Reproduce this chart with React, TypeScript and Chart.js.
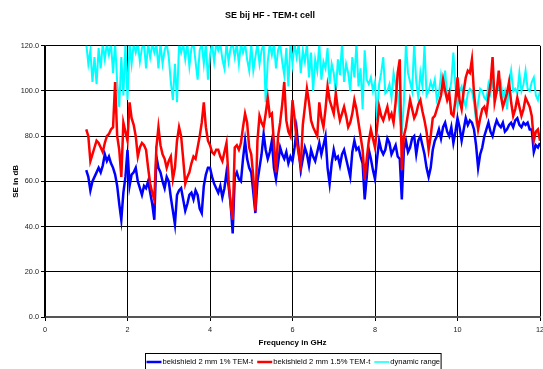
import React, { useEffect, useRef } from "react";
import { Chart, registerables } from "chart.js";

Chart.register(...registerables);

const FONT = "'Liberation Sans', Arial, sans-serif";

const chartTitle = "SE bij HF - TEM-t cell";
const xTitle = "Frequency in GHz";
const yTitle = "SE in dB";

// frequency sweep: 1.00 GHz to 12.00 GHz every 0.05 GHz
const freqStart = 1.0;
const freqStep = 0.05;

const xTicks = [0, 2, 4, 6, 8, 10, 12];
const yTicks = [0, 20, 40, 60, 80, 100, 120];

const seriesNames = ["bekishield 2 mm 1% TEM-t", "bekishield 2 mm 1.5% TEM-t", "dynamic range"];
const seriesColors = ["#0000FF", "#FF0000", "#00FFFF"];

const blueSE = [
  65, 62, 56, 60, 62, 64, 66, 64, 67, 72, 69, 71, 68, 66, 63, 58, 50, 43, 55, 62,
  74, 58, 63, 64, 66, 60, 57, 54, 58, 57, 60, 55, 50, 43, 71, 66, 64, 60, 57, 62,
  60, 53, 47, 41, 54, 56, 57, 52, 47, 50, 54, 55, 52, 56, 54, 48, 46, 58, 63, 66,
  66, 62, 59, 57, 55, 58, 53, 57, 64, 58, 50, 37, 62, 64, 61, 60, 70, 78, 70, 66,
  64, 55, 46, 60, 66, 72, 81, 74, 70, 73, 78, 66, 61, 68, 75, 72, 70, 73, 68, 71,
  69, 75, 83, 74, 65, 70, 75, 72, 67, 74, 71, 69, 73, 77, 72, 76, 80, 66, 59, 68,
  74, 70, 71, 67, 72, 74, 70, 66, 62, 73, 78, 74, 75, 71, 68, 52, 62, 74, 70, 65,
  61, 70, 78, 74, 72, 74, 79, 77, 72, 74, 76, 71, 70, 52, 74, 78, 73, 75, 79, 80,
  72, 78, 80, 76, 72, 66, 62, 66, 74, 78, 80, 83, 79, 84, 86, 82, 80, 84, 77, 82,
  88, 84, 78, 83, 88, 85, 87, 86, 83, 76, 66, 72, 75, 80, 83, 86, 82, 80, 84, 87,
  85, 84, 86, 82, 83, 85, 86, 84, 87, 88, 85, 84, 86, 85, 86, 83, 83, 73, 76, 75,
  77,
];

const redSE = [
  83, 80, 69, 72, 75, 78, 77, 75, 73, 77, 80, 81, 83, 84, 104, 80, 74, 62, 86, 82,
  78, 95, 88, 85, 80, 71, 75, 77, 76, 74, 66, 59, 55, 52, 75, 84, 76, 72, 70, 66,
  69, 71, 61, 66, 78, 84, 80, 70, 59, 62, 64, 68, 71, 70, 75, 80, 86, 95, 84, 78,
  76, 73, 72, 74, 74, 71, 69, 73, 77, 61, 50, 43, 75, 76, 74, 77, 84, 90, 86, 75,
  72, 62, 47, 78, 89, 86, 84, 90, 97, 89, 90, 77, 64, 80, 86, 94, 104, 87, 82, 80,
  96, 88, 78, 72, 67, 85, 93, 101, 95, 87, 84, 82, 80, 95, 88, 84, 92, 102, 96, 93,
  90, 99, 92, 87, 90, 93, 89, 84, 86, 90, 96, 92, 86, 80, 74, 61, 70, 78, 83, 79,
  75, 84, 93, 89, 87, 90, 93, 88, 90, 86, 95, 108, 114, 65, 80, 84, 90, 96, 92, 88,
  90, 94, 96, 91, 87, 82, 74, 80, 88, 89, 92, 95, 98, 105, 100, 96, 99, 90, 89, 96,
  106, 96, 92, 100, 106, 109, 108, 114, 99, 90, 83, 88, 92, 93, 90, 97, 103, 115, 95, 100,
  109, 98, 93, 96, 99, 104, 95, 89, 92, 97, 93, 89, 92, 97, 95, 93, 89, 78, 82, 83,
  78,
];

const dynamicRange = [
  121, 112, 118, 104, 115, 103, 119, 110, 121, 114, 121, 116, 121, 108, 121, 104, 93, 115, 98, 121,
  96, 121, 112, 121, 117, 121, 113, 119, 121, 110, 121, 115, 121, 117, 121, 110, 121, 112, 118, 121,
  115, 104, 96, 112, 95, 121, 117, 121, 114, 121, 111, 119, 121, 113, 105, 118, 121, 112, 121, 105,
  116, 121, 113, 121, 118, 121, 114, 110, 121, 113, 119, 121, 115, 121, 112, 121, 117, 121, 114, 109,
  121, 109, 115, 121, 112, 118, 121, 95, 113, 121, 116, 121, 110, 118, 121, 113, 107, 119, 102, 121,
  112, 121, 115, 121, 108, 118, 113, 121, 106, 117, 100, 114, 109, 121, 105, 113, 110, 119, 103, 112,
  108, 99, 114, 107, 121, 104, 112, 108, 100, 115, 106, 121, 102, 110, 92, 118, 105, 103, 106, 100,
  104, 87, 103, 108, 115, 99, 100, 103, 97, 108, 103, 99, 88, 81, 95, 121, 108, 104, 100, 121,
  104, 97, 108, 102, 120, 98, 100, 104, 101, 105, 96, 99, 107, 101, 109, 97, 99, 104, 117, 102,
  93, 100, 102, 96, 93, 99, 101, 100, 95, 87, 95, 101, 100, 97, 96, 103, 99, 105, 98, 99,
  102, 104, 97, 100, 92, 103, 109, 100, 101, 99, 108, 100, 103, 109, 101, 100, 104, 106, 98, 96,
  100,
];

function toPoints(vals: number[]) {
  return vals.map((v, i) => ({ x: +(freqStart + i * freqStep).toFixed(2), y: v }));
}

const legendBoxPlugin = {
  id: "legendBox",
  afterDraw(chart: any) {
    const { ctx, chartArea } = chart;
    ctx.save();
    ctx.font = `7.6px ${FONT}`;
    const sample = 15;
    const gapAfterSample = 1;
    const gapAfterText = 4;
    const pad = 1;
    const widths = seriesNames.map((n) => ctx.measureText(n).width);
    let total = pad * 2;
    widths.forEach((w, i) => {
      total += sample + gapAfterSample + w + (i < widths.length - 1 ? gapAfterText : 0);
    });
    const cx = (chartArea.left + chartArea.right) / 2;
    const left = Math.round(cx - total / 2) + 0.5;
    const top = 353.5;
    ctx.strokeStyle = "#000";
    ctx.lineWidth = 1;
    ctx.strokeRect(left, top, total, 20);
    const yMid = 362;
    let x = left + pad;
    ctx.textBaseline = "middle";
    ctx.textAlign = "left";
    seriesNames.forEach((n, i) => {
      ctx.strokeStyle = seriesColors[i];
      ctx.lineWidth = i === 2 ? 1.5 : 2.5;
      ctx.beginPath();
      ctx.moveTo(x, yMid);
      ctx.lineTo(x + sample, yMid);
      ctx.stroke();
      x += sample + gapAfterSample;
      ctx.fillStyle = "#000";
      ctx.fillText(n, x, yMid);
      x += widths[i] + gapAfterText;
    });
    ctx.restore();
  },
};

export default function App() {
  const canvasRef = useRef<HTMLCanvasElement | null>(null);

  useEffect(() => {
    if (!canvasRef.current) return;
    const tickFont = { family: FONT, size: 7.3 };
    const chart = new Chart(canvasRef.current, {
      type: "line",
      data: {
        datasets: [
          {
            label: seriesNames[0],
            data: toPoints(blueSE),
            borderColor: seriesColors[0],
            backgroundColor: seriesColors[0],
            borderWidth: 2.5,
            pointRadius: 0,
            tension: 0,
            order: 1,
            clip: 0,
          },
          {
            label: seriesNames[1],
            data: toPoints(redSE),
            borderColor: seriesColors[1],
            backgroundColor: seriesColors[1],
            borderWidth: 2.5,
            pointRadius: 0,
            tension: 0,
            order: 0,
            clip: 0,
          },
          {
            label: seriesNames[2],
            data: toPoints(dynamicRange),
            borderColor: seriesColors[2],
            backgroundColor: seriesColors[2],
            borderWidth: 2,
            pointRadius: 0,
            tension: 0,
            order: 2,
            clip: 0,
          },
        ],
      },
      options: {
        responsive: false,
        animation: false,
        events: [],
        layout: { padding: { left: 0, right: 3, top: 0, bottom: 21 } },
        plugins: {
          legend: { display: false },
          tooltip: { enabled: false },
          title: {
            display: true,
            text: chartTitle,
            color: "#000",
            font: { family: FONT, size: 9, weight: "bold" },
            padding: { top: 10, bottom: 25 },
          },
        },
        scales: {
          x: {
            type: "linear",
            min: 0,
            max: 12,
            afterBuildTicks: (s: any) => {
              s.ticks = xTicks.map((v) => ({ value: v }));
            },
            afterFit: (s: any) => {
              s.height = 31;
              s.paddingLeft = 0;
              s.paddingRight = 0;
            },
            ticks: {
              color: "#222",
              font: tickFont,
              padding: 5,
              maxRotation: 0,
              autoSkip: false,
              callback: (v: any) => String(v),
            },
            grid: { color: "#000", lineWidth: 1, tickLength: 4, drawTicks: true },
            border: { color: "#555", width: 2 },
            title: {
              display: true,
              text: xTitle,
              color: "#000",
              font: { family: FONT, size: 8, weight: "bold" },
              padding: { top: 0, bottom: 0 },
            },
          },
          y: {
            type: "linear",
            min: 0,
            max: 120,
            afterBuildTicks: (s: any) => {
              s.ticks = yTicks.map((v) => ({ value: v }));
            },
            afterFit: (s: any) => {
              s.width = 45;
              s.paddingTop = 0;
              s.paddingBottom = 0;
            },
            ticks: {
              color: "#222",
              font: tickFont,
              padding: 2,
              callback: (v: any) => Number(v).toFixed(1),
            },
            grid: { color: "#000", lineWidth: 1, tickLength: 4, drawTicks: true },
            border: { color: "#000", width: 1.5 },
            title: {
              display: true,
              text: yTitle,
              color: "#000",
              font: { family: FONT, size: 8, weight: "bold" },
              padding: { top: 11, bottom: 0 },
            },
          },
        },
      },
      plugins: [legendBoxPlugin],
    } as any);
    return () => chart.destroy();
  }, []);

  return (
    <div style={{ position: "fixed", left: 0, top: 0, width: 543, height: 369, background: "#fff" }}>
      <canvas ref={canvasRef} width={543} height={369} style={{ display: "block", width: 543, height: 369 }} />
    </div>
  );
}
